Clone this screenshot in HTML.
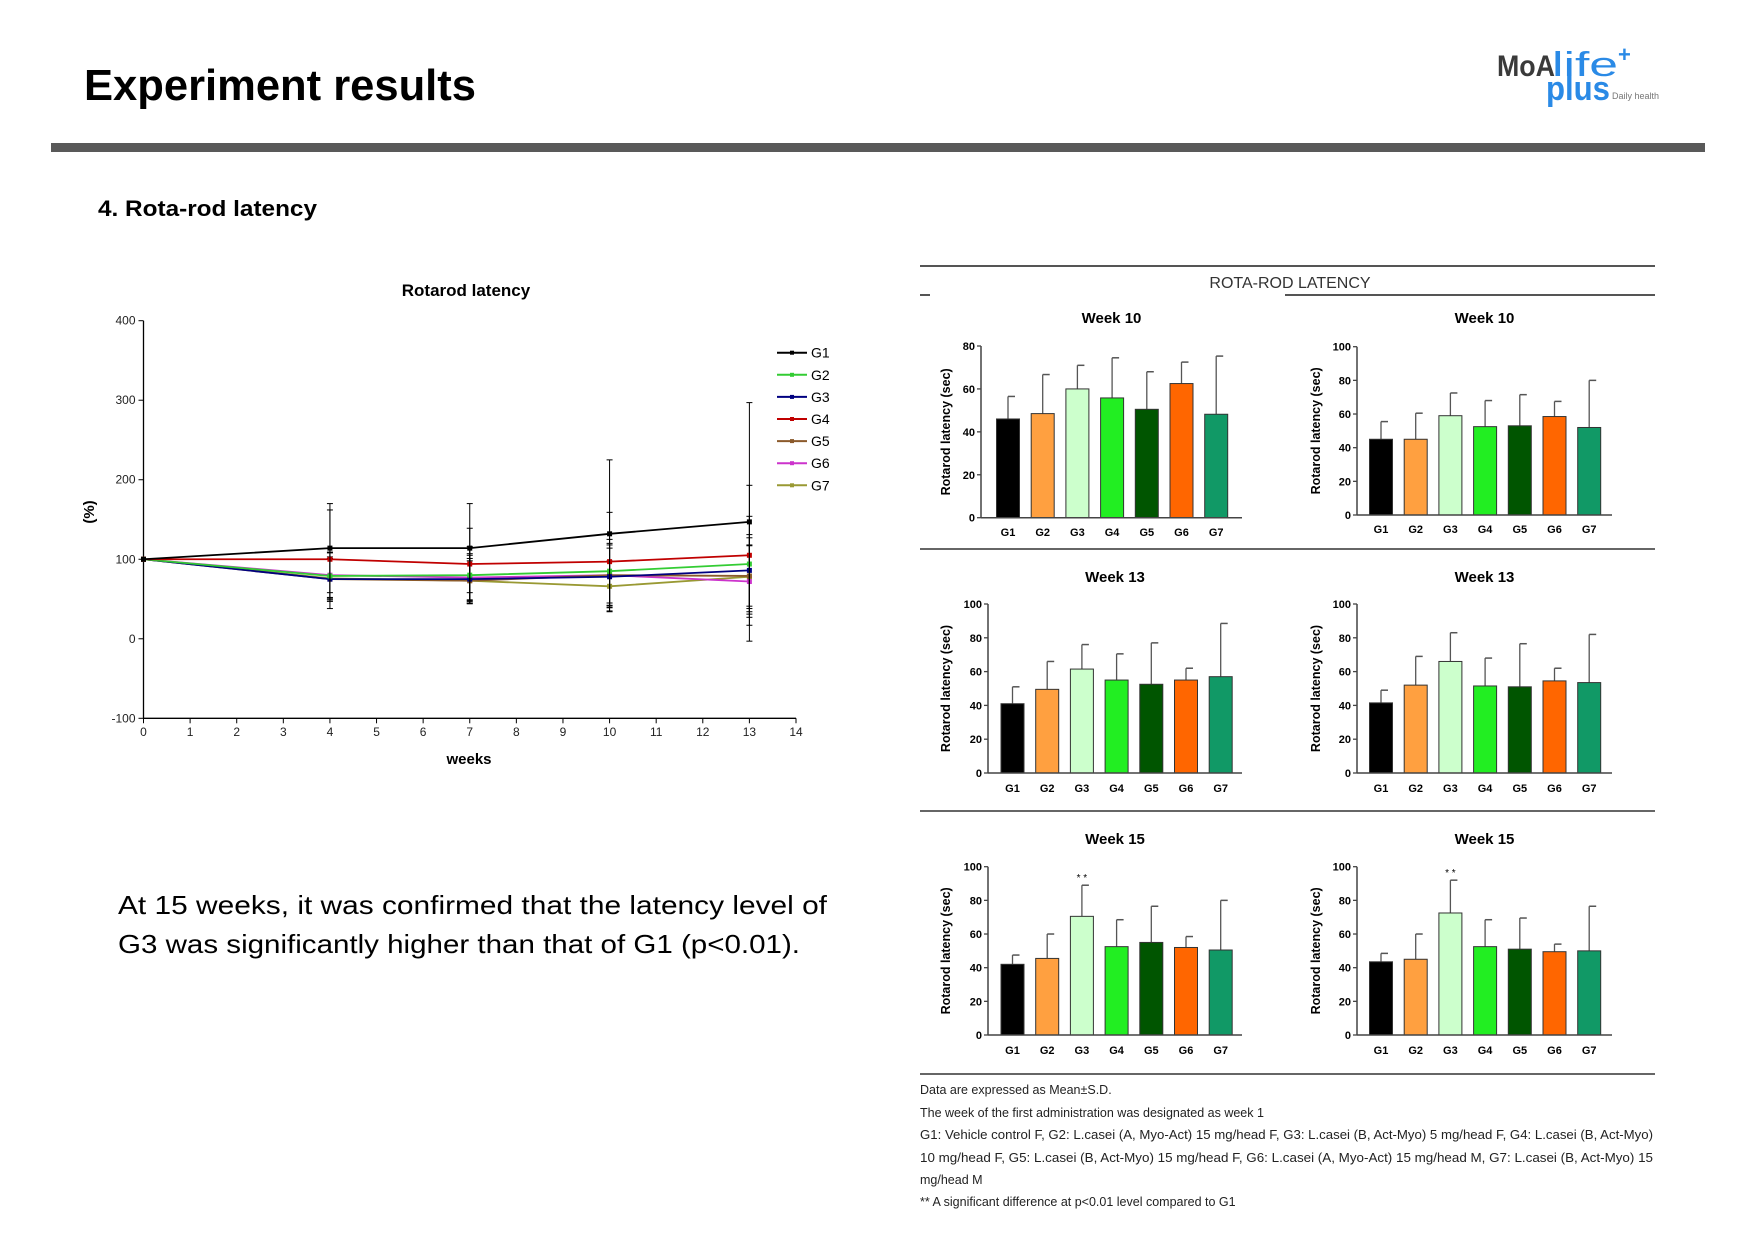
<!DOCTYPE html>
<html><head><meta charset="utf-8"><style>
html,body{margin:0;padding:0;background:#fff;}
svg{display:block;font-family:"Liberation Sans",sans-serif;}
</style></head><body>
<svg id="page" width="1755" height="1241" viewBox="0 0 1755 1241" xmlns="http://www.w3.org/2000/svg">
<rect x="0" y="0" width="1755" height="1241" fill="#fff"/>
<text x="84" y="100" font-size="44" font-weight="bold" textLength="392" lengthAdjust="spacingAndGlyphs">Experiment results</text>
<g>
<text x="1497" y="76" font-size="30" font-weight="bold" fill="#3a3a3a" textLength="58" lengthAdjust="spacingAndGlyphs">MoA</text>
<text x="1552" y="76" font-size="34" fill="#2a8ae6" textLength="66" lengthAdjust="spacingAndGlyphs">life</text>
<text x="1546" y="100" font-size="34" font-weight="bold" fill="#2a8ae6" textLength="64" lengthAdjust="spacingAndGlyphs">plus</text>
<text x="1618" y="62" font-size="22" font-weight="bold" fill="#2a8ae6">+</text>
<text x="1612" y="99" font-size="9" fill="#777">Daily health</text>
</g>
<rect x="51" y="143" width="1654" height="9" fill="#595959"/>
<text x="98" y="216" font-size="22" font-weight="bold" textLength="219" lengthAdjust="spacingAndGlyphs">4. Rota-rod latency</text>
<g font-size="26">
<text x="118" y="914" textLength="709" lengthAdjust="spacingAndGlyphs">At 15 weeks, it was confirmed that the latency level of</text>
<text x="118" y="953" textLength="682" lengthAdjust="spacingAndGlyphs">G3 was significantly higher than that of G1 (p&lt;0.01).</text>
</g>
<g id="linechart"></g>
<g id="barpanel">
<line x1="920" y1="266" x2="1655" y2="266" stroke="#555" stroke-width="2"/>
<text x="1290" y="288" font-size="16" text-anchor="middle" fill="#333">ROTA-ROD LATENCY</text>
<line x1="920" y1="295" x2="930" y2="295" stroke="#555" stroke-width="2"/>
<line x1="1285" y1="295" x2="1655" y2="295" stroke="#555" stroke-width="2"/>
<line x1="920" y1="549" x2="1655" y2="549" stroke="#666" stroke-width="2"/>
<line x1="920" y1="811" x2="1655" y2="811" stroke="#666" stroke-width="2"/>
<line x1="920" y1="1074" x2="1655" y2="1074" stroke="#666" stroke-width="2"/>
</g>
<g font-size="12.5" fill="#222">
<text x="920" y="1094">Data are expressed as Mean±S.D.</text>
<text x="920" y="1117">The week of the first administration was designated as week 1</text>
<text x="920" y="1139" textLength="733" lengthAdjust="spacingAndGlyphs">G1: Vehicle control F, G2: L.casei (A, Myo-Act) 15 mg/head F, G3: L.casei (B, Act-Myo) 5 mg/head F, G4: L.casei (B, Act-Myo)</text>
<text x="920" y="1162" textLength="733" lengthAdjust="spacingAndGlyphs">10 mg/head F, G5: L.casei (B, Act-Myo) 15 mg/head F, G6: L.casei (A, Myo-Act) 15 mg/head M, G7: L.casei (B, Act-Myo) 15</text>
<text x="920" y="1184">mg/head M</text>
<text x="920" y="1206">** A significant difference at p&lt;0.01 level compared to G1</text>
</g>
</svg>
<script>
const NS="http://www.w3.org/2000/svg";
// ---- line chart data ----
const weeks=[0,4,7,10,13];
const groupNames=["G1","G2","G3","G4","G5","G6","G7"];
const g1Mean=[100,114,114,132,147];
const g2Mean=[100,79,80,85,94];
const g3Mean=[100,75,75,78,86];
const g4Mean=[100,100,94,97,105];
const g5Mean=[100,75,73,80,79];
const g6Mean=[100,80,77,80,72];
const g7Mean=[100,76,73,66,78];
const g1Sd=[0,56,56,93,150];
const g2Sd=[0,30,36,40,60];
const g3Sd=[0,28,30,36,45];
const g4Sd=[0,62,45,62,88];
const g5Sd=[0,26,28,38,48];
const g6Sd=[0,28,30,40,45];
const g7Sd=[0,25,25,32,40];
const xTicks=[0,1,2,3,4,5,6,7,8,9,10,11,12,13,14];
const yTicks=[-100,0,100,200,300,400];
// ---- bar chart data ----
const barGroups=["G1","G2","G3","G4","G5","G6","G7"];
const w10aMean=[46,48.5,60,55.8,50.5,62.5,48.2];
const w10aTop=[56.5,66.7,71,74.5,68,72.5,75.3];
const w10bMean=[45,45,59,52.5,53,58.5,52];
const w10bTop=[55.5,60.5,72.5,68,71.5,67.5,80];
const w13aMean=[41,49.5,61.5,55,52.5,55,57];
const w13aTop=[51,66,76,70.5,77,62,88.5];
const w13bMean=[41.5,52,66,51.5,51,54.5,53.5];
const w13bTop=[49,69,83,68,76.5,62,82];
const w15aMean=[42,45.5,70.5,52.5,55,52,50.5];
const w15aTop=[47.5,60,89,68.5,76.5,58.5,80];
const w15bMean=[43.5,45,72.5,52.5,51,49.5,50];
const w15bTop=[48.5,60,92,68.5,69.5,54,76.5];
const ticks80=[0,20,40,60,80];
const ticks100=[0,20,40,60,80,100];

function el(tag,attrs,parent,text){const e=document.createElementNS(NS,tag);for(const k in attrs)e.setAttribute(k,attrs[k]);if(text!==undefined)e.textContent=text;parent.appendChild(e);return e;}

// line chart
(function(){
const g=document.getElementById('linechart');
const X0=143.5,X1=796,Y400=320.7,Ym100=718.3;
const sx=v=>X0+(v-0)/(14-0)*(X1-X0);
const sy=v=>Ym100+(v+100)/500*(Y400-Ym100);
const t=el('text',{x:466,y:296,'font-size':17,'font-weight':'bold','text-anchor':'middle'},g,'Rotarod latency');


el('line',{x1:X0,y1:Y400,x2:X0,y2:Ym100,stroke:'#000','stroke-width':1.3},g);
el('line',{x1:X0,y1:Ym100,x2:X1,y2:Ym100,stroke:'#000','stroke-width':1.3},g);
yTicks.forEach(v=>{el('line',{x1:X0-5,y1:sy(v),x2:X0,y2:sy(v),stroke:'#000'},g);
 const l=el('text',{x:X0-8,y:sy(v)+4,'font-size':12,'text-anchor':'end',fill:'#222'},g,String(v));
 
 });
xTicks.forEach(v=>{el('line',{x1:sx(v),y1:Ym100,x2:sx(v),y2:Ym100+5,stroke:'#000'},g);
 const l=el('text',{x:sx(v),y:736,'font-size':12,'text-anchor':'middle',fill:'#222'},g,String(v));
 
 });
const xt=el('text',{x:469,y:764,'font-size':15,'font-weight':'bold','text-anchor':'middle'},g,'weeks');


const yt=el('text',{x:0,y:0,'font-size':15,'font-weight':'bold','text-anchor':'middle',transform:'translate(94,512) rotate(-90)'},g,'(%)');


const means=[g1Mean,g2Mean,g3Mean,g4Mean,g5Mean,g6Mean,g7Mean];
const sds=[g1Sd,g2Sd,g3Sd,g4Sd,g5Sd,g6Sd,g7Sd];
const colors=['#000','#33cc33','#000080','#c00000','#8b5a2b','#cc33cc','#999933'];
const order=[6,5,4,2,1,3,0];
order.forEach(i=>{
 const sg=el('g',{},g);
 
 
 weeks.forEach((w,j)=>{if(sds[i][j]>0){const x=sx(w);
  el('line',{x1:x,y1:sy(means[i][j]+sds[i][j]),x2:x,y2:sy(means[i][j]-sds[i][j]),stroke:'#000','stroke-width':1},sg);
  el('line',{x1:x-3,y1:sy(means[i][j]+sds[i][j]),x2:x+3,y2:sy(means[i][j]+sds[i][j]),stroke:'#000'},sg);
  el('line',{x1:x-3,y1:sy(means[i][j]-sds[i][j]),x2:x+3,y2:sy(means[i][j]-sds[i][j]),stroke:'#000'},sg);}});
 const pts=weeks.map((w,j)=>sx(w)+','+sy(means[i][j])).join(' ');
 el('polyline',{points:pts,fill:'none',stroke:colors[i],'stroke-width':1.8},sg);
 weeks.forEach((w,j)=>{const p=el('rect',{x:sx(w)-2.5,y:sy(means[i][j])-2.5,width:5,height:5,fill:colors[i]},sg);
  
  });
});
groupNames.forEach((n,i)=>{const y=352.7+i*22.1;
 const lg=el('g',{},g);
 
 
 el('line',{x1:777,y1:y,x2:807,y2:y,stroke:colors[i],'stroke-width':2},lg);
 el('rect',{x:790,y:y-2,width:4,height:4,fill:colors[i]},lg);
 el('text',{x:811,y:y+5,'font-size':14},lg,n);});
})();

// bar charts
(function(){
const g=document.getElementById('barpanel');
const barColors=['#000','#ffa040','#ccffcc','#22ee22','#005500','#ff6600','#119966'];
const panels=[
 {title:'Week 10',mean:w10aMean,top:w10aTop,ticks:ticks80,max:80,ax:981,first:1008,end:1242,y0:517.7,yTop:346,ty:323,ly:536,yl:950,sig:false},
 {title:'Week 10',mean:w10bMean,top:w10bTop,ticks:ticks100,max:100,ax:1357,first:1381,end:1612,y0:515,yTop:346.7,ty:323,ly:533,yl:1320,sig:false},
 {title:'Week 13',mean:w13aMean,top:w13aTop,ticks:ticks100,max:100,ax:988,first:1012.5,end:1242,y0:773,yTop:604,ty:582,ly:792,yl:950,sig:false},
 {title:'Week 13',mean:w13bMean,top:w13bTop,ticks:ticks100,max:100,ax:1357,first:1381,end:1612,y0:773,yTop:604,ty:582,ly:792,yl:1320,sig:false},
 {title:'Week 15',mean:w15aMean,top:w15aTop,ticks:ticks100,max:100,ax:988,first:1012.5,end:1242,y0:1035,yTop:866.7,ty:844,ly:1054,yl:950,sig:true},
 {title:'Week 15',mean:w15bMean,top:w15bTop,ticks:ticks100,max:100,ax:1357,first:1381,end:1612,y0:1035,yTop:866.7,ty:844,ly:1054,yl:1320,sig:true}
];
panels.forEach((p,pi)=>{
 const pg=el('g',{},g);
 
 
 const sy=v=>p.y0+(v/p.max)*(p.yTop-p.y0);
 const sp=34.7;
 const tt=el('text',{x:(p.ax+p.end)/2,y:p.ty,'font-size':15,'font-weight':'bold','text-anchor':'middle'},pg,p.title);
 
 
 p.ticks.forEach(v=>{el('line',{x1:p.ax-4,y1:sy(v),x2:p.ax,y2:sy(v),stroke:'#444','stroke-width':1.3},pg);
  el('text',{x:p.ax-6,y:sy(v)+4,'font-size':11,'font-weight':'bold','text-anchor':'end'},pg,String(v));});
 const yl=el('text',{x:0,y:0,'font-size':12.5,'font-weight':'bold','text-anchor':'middle',transform:'translate('+p.yl+','+((p.y0+p.yTop)/2)+') rotate(-90)'},pg,'Rotarod latency (sec)');
 
 
 barGroups.forEach((n,i)=>{const cx=p.first+i*sp;
  el('line',{x1:cx,y1:sy(p.mean[i]),x2:cx,y2:sy(p.top[i]),stroke:'#555','stroke-width':1.3},pg);
  el('line',{x1:cx,y1:sy(p.top[i]),x2:cx+7,y2:sy(p.top[i]),stroke:'#555','stroke-width':1.5},pg);
  const b=el('rect',{x:cx-11.5,y:sy(p.mean[i]),width:23,height:p.y0-sy(p.mean[i]),fill:barColors[i],stroke:'#333','stroke-width':1},pg);
  
  
  el('text',{x:cx,y:p.ly,'font-size':11,'font-weight':'bold','text-anchor':'middle'},pg,n);
  if(p.sig&&i===2){el('text',{x:cx,y:sy(p.top[i])-4,'font-size':10,'text-anchor':'middle'},pg,'* *');}
 });
 el('line',{x1:p.ax,y1:p.yTop,x2:p.ax,y2:p.y0,stroke:'#444','stroke-width':1.5},pg);
 el('line',{x1:p.ax,y1:p.y0,x2:p.end,y2:p.y0,stroke:'#444','stroke-width':1.5},pg);
});
})();
</script>
</body></html>
